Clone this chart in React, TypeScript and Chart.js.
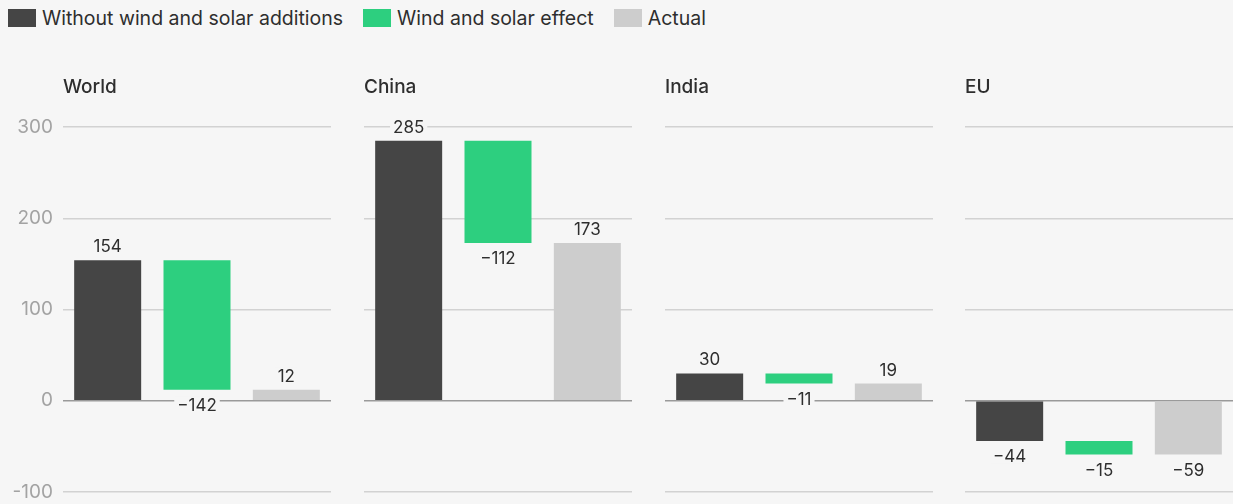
import React, { useEffect, useRef } from "react";
import { Chart, registerables } from "chart.js";

Chart.register(...registerables);

const regions = ["World", "China", "India", "EU"];
const barLabels = ["Without wind and solar additions", "Wind and solar effect", "Actual"];
const withoutAdditions = [154, 285, 30, -44];
const windSolarEffect = [-142, -112, -11, -15];
const actual = [12, 173, 19, -59];
const yTicks = [-100, 0, 100, 200, 300];
const colors = ["#454545", "#2dcf7f", "#cdcdcd"];

const BG = "#f6f6f6";
const FONT = "Inter, 'Noto Sans', sans-serif";

const panelBoxes = [
  { left: 0, width: 340, axis: 63, padRight: 9 },
  { left: 364, width: 268, axis: 0, padRight: 0 },
  { left: 665, width: 268, axis: 0, padRight: 0 },
  { left: 965, width: 268, axis: 0, padRight: 0 },
];

const labelPlugin = {
  id: "panelLabels",
  afterDatasetsDraw(chart: any, _args: any, opts: any) {
    const ctx = chart.ctx;
    const area = chart.chartArea;
    ctx.save();
    ctx.font = `500 19px ${FONT}`;
    ctx.fillStyle = "#2e2e2e";
    ctx.textAlign = "left";
    ctx.textBaseline = "middle";
    ctx.fillText(opts.title, area.left, 47);
    const meta = chart.getDatasetMeta(0);
    const yScale = chart.scales.y;
    ctx.font = `400 17px ${FONT}`;
    ctx.textAlign = "center";
    opts.values.forEach((v: number, i: number) => {
      const bar = meta.data[i];
      const end = opts.ends[i];
      const yEnd = yScale.getPixelForValue(end);
      const y = v >= 0 ? yEnd - 14 : yEnd + 15;
      const txt = v < 0 ? "\u2212" + Math.abs(v) : String(v);
      const w = ctx.measureText(txt).width;
      ctx.fillStyle = BG;
      ctx.fillRect(bar.x - w / 2 - 3, y - 8, w + 6, 16);
      ctx.fillStyle = "#2e2e2e";
      ctx.fillText(txt, bar.x, y + 1);
    });
    ctx.restore();
  },
};

function Panel({ idx }: { idx: number }) {
  const ref = useRef<HTMLCanvasElement>(null);
  useEffect(() => {
    const box = panelBoxes[idx];
    const w = withoutAdditions[idx];
    const e = windSolarEffect[idx];
    const a = actual[idx];
    const data = [
      [0, w],
      [w, w + e],
      [0, a],
    ];
    const chart = new Chart(ref.current!, {
      type: "bar",
      data: {
        labels: barLabels,
        datasets: [
          {
            data: data as any,
            backgroundColor: colors,
            borderWidth: 0,
            borderSkipped: false,
            categoryPercentage: 1,
            barPercentage: 0.75,
          },
        ],
      },
      options: {
        animation: false,
        responsive: false,
        maintainAspectRatio: false,
        layout: { padding: { top: 87, bottom: 12, left: 0, right: box.padRight } },
        plugins: {
          legend: { display: false },
          tooltip: { enabled: false },
          panelLabels: { title: regions[idx], values: [w, e, a], ends: [w, w + e, a] },
        } as any,
        scales: {
          x: { display: false },
          y: {
            min: yTicks[0],
            max: yTicks[yTicks.length - 1],
            afterFit(scale: any) {
              scale.width = box.axis;
              scale.paddingTop = 0;
              scale.paddingBottom = 0;
            },
            afterBuildTicks(scale: any) {
              scale.ticks = yTicks.map((v) => ({ value: v }));
            },
            border: { display: false },
            grid: {
              color: (c: any) => (c.tick && c.tick.value === 0 ? "#9a9a9a" : "#d2d2d2"),
              lineWidth: 1.5,
              drawTicks: false,
            },
            ticks: {
              display: idx === 0,
              padding: 10,
              color: "#a3a3a3",
              font: { family: FONT, size: 19 },
              callback: (v: any) => (Number(v) < 0 ? "-" + Math.abs(Number(v)) : String(v)),
            },
          },
        },
      },
      plugins: [labelPlugin],
    });
    return () => chart.destroy();
  }, [idx]);
  const box = panelBoxes[idx];
  return (
    <canvas
      ref={ref}
      width={box.width}
      height={464}
      style={{ position: "absolute", left: box.left, top: 40, width: box.width, height: 464 }}
    />
  );
}

export default function App() {
  return (
    <div
      style={{
        position: "fixed",
        left: 0,
        top: 0,
        width: 1233,
        height: 504,
        background: BG,
        overflow: "hidden",
        fontFamily: FONT,
      }}
    >
      <div
        style={{
          position: "absolute",
          left: 8,
          top: 5,
          height: 26,
          display: "flex",
          alignItems: "center",
          fontSize: 19.5,
          color: "#2e2e2e",
        }}
      >
        {barLabels.map((l, i) => (
          <div key={l} style={{ display: "flex", alignItems: "center", marginRight: 20 }}>
            <span
              style={{
                display: "inline-block",
                width: 28,
                height: 18,
                background: colors[i],
                marginRight: 6,
              }}
            />
            <span>{l}</span>
          </div>
        ))}
      </div>
      {regions.map((r, i) => (
        <Panel key={r} idx={i} />
      ))}
    </div>
  );
}
